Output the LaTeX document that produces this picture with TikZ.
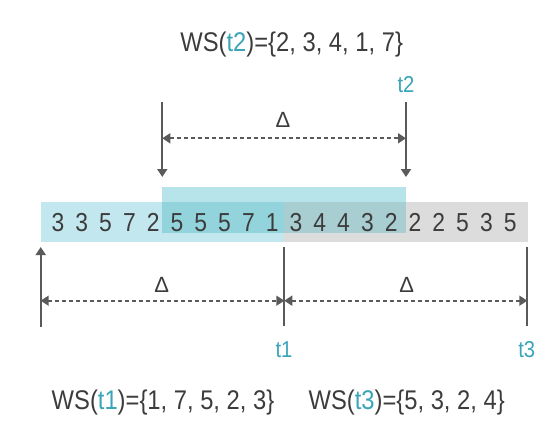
\documentclass[tikz,border=0pt]{standalone}
\usepackage{fontspec}
\setmainfont{Liberation Sans}
\usetikzlibrary{arrows.meta}
\definecolor{txtc}{HTML}{3C3C3C}
\definecolor{lnc}{HTML}{5A5A5A}
\definecolor{tlc}{HTML}{3AA5B8}
\definecolor{lightc}{HTML}{C3E7EE}
\definecolor{greyc}{HTML}{DCDCDC}
\definecolor{boxc}{HTML}{B6E4EA}
\definecolor{ovc}{HTML}{93D3DC}
\definecolor{ovg}{HTML}{A9CED2}
\newcommand{\nrw}[1]{\scalebox{0.88}[1]{#1}}
\begin{document}
\begin{tikzpicture}[x=1pt,y=-1pt,
  ln/.style={draw=lnc, line width=1.9pt},
  tip/.style={-{Triangle[length=8pt,width=10pt]}},
  dim/.style={draw=lnc, line width=1.7pt, dash pattern=on 4pt off 3pt,
    {Triangle[length=8pt,width=10pt]}-{Triangle[length=8pt,width=10pt]}},
  lab/.style={text=txtc, font=\fontsize{27}{30}\selectfont, inner sep=0pt},
  dig/.style={text=txtc, font=\fontsize{26}{28}\selectfont, inner sep=0pt, anchor=base},
  tl/.style={text=tlc, font=\fontsize{23}{25}\selectfont, inner sep=0pt},
  del/.style={text=txtc, font=\fontsize{22}{24}\selectfont, inner sep=0pt}]
\useasboundingbox (0,0) rectangle (560,423);
% bands
\fill[lightc] (40.7,201.7) rectangle (284.3,241.7);
\fill[greyc] (284.3,201.7) rectangle (528,241.7);
\fill[boxc] (161.7,187.3) rectangle (406,201.7);
\fill[ovc] (161.7,201.7) rectangle (284.3,232.7);
\fill[ovg] (284.3,201.7) rectangle (406,232.7);
% digits
\foreach \d [count=\i from 0] in {3,3,5,7,2,5,5,5,7,1,3,4,4,3,2,2,2,5,3,5}{
  \node[dig] (d\i) at ({58+23.8*\i},231.7) {\nrw{\d}};
}
% top
\node[lab] (ws2) at (291.7,45) {\nrw{WS(\textcolor{tlc}{t2})=\{2, 3, 4, 1, 7\}}};
\node[tl] (t2) at (406,85) {\nrw{t2}};
\coordinate (tls) at (162.3,101.7);
\coordinate (tle) at (162.3,177);
\coordinate (trs) at (406,101.7);
\coordinate (tre) at (406,177);
\coordinate (tdl) at (162.3,138.3);
\coordinate (tdr) at (406,138.3);
\draw[ln,tip] (tls) -- (tle);
\draw[ln,tip] (trs) -- (tre);
\draw[dim] (tdl) -- (tdr);
\node[del] (dt) at (283,120) {Δ};
% bottom
\coordinate (bls) at (40.7,326.7);
\coordinate (ble) at (40.7,247);
\coordinate (b1s) at (284.3,246.7);
\coordinate (b1e) at (284.3,326);
\coordinate (b3s) at (527.3,246.7);
\coordinate (b3e) at (527.3,326);
\coordinate (dl) at (40.7,300.7);
\coordinate (dm) at (284.3,300.7);
\coordinate (dr) at (527.3,300.7);
\draw[ln,tip] (bls) -- (ble);
\draw[ln] (b1s) -- (b1e);
\draw[ln] (b3s) -- (b3e);
\draw[dim] (dl) -- (dm);
\draw[dim] (dm) -- (dr);
\node[del] (d1) at (161.7,285) {Δ};
\node[del] (d2) at (406.7,285) {Δ};
\node[tl] (t1) at (284,350) {\nrw{t1}};
\node[tl] (t3) at (526.7,350) {\nrw{t3}};
\node[lab] (ws1) at (163,403) {\nrw{WS(\textcolor{tlc}{t1})=\{1, 7, 5, 2, 3\}}};
\node[lab] (ws3) at (406.7,403) {\nrw{WS(\textcolor{tlc}{t3})=\{5, 3, 2, 4\}}};
\end{tikzpicture}
\end{document}
